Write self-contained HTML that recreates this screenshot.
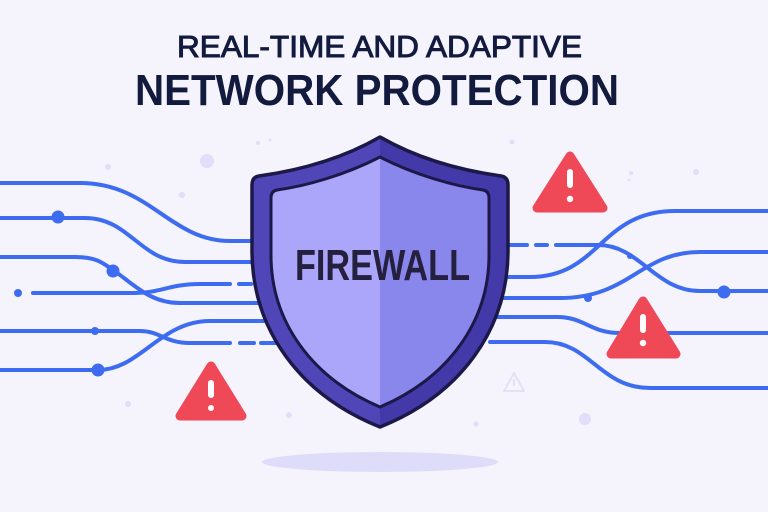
<!DOCTYPE html>
<html>
<head>
<meta charset="utf-8">
<style>
  html,body{margin:0;padding:0;background:#f5f4fd;}
  svg{display:block;}
</style>
</head>
<body>
<svg width="768" height="512" viewBox="0 0 768 512" xmlns="http://www.w3.org/2000/svg">
  <defs>
    <linearGradient id="band" x1="0" y1="0" x2="1" y2="0">
      <stop offset="0.5" stop-color="#5046b8"/>
      <stop offset="0.5" stop-color="#4439a9"/>
    </linearGradient>
    <linearGradient id="inner" x1="0" y1="0" x2="1" y2="0">
      <stop offset="0.5" stop-color="#aca6fb"/>
      <stop offset="0.5" stop-color="#8986ec"/>
    </linearGradient>
  </defs>
  <rect width="768" height="512" fill="#f5f4fd"/>

  <!-- title -->
  <text x="177" y="57" font-family="Liberation Sans, sans-serif" font-size="31" fill="#121a3e" stroke="#121a3e" stroke-width="1" textLength="405" lengthAdjust="spacingAndGlyphs">REAL-TIME AND ADAPTIVE</text>
  <text x="135" y="105" font-family="Liberation Sans, sans-serif" font-weight="bold" font-size="44" fill="#121a3e" textLength="484" lengthAdjust="spacingAndGlyphs">NETWORK PROTECTION</text>

  <!-- decorative dots -->
  <g fill="#e0def8">
    <circle cx="207" cy="161" r="7"/>
    <circle cx="108" cy="167" r="3"/>
    <circle cx="182" cy="195" r="3"/>
    <circle cx="128" cy="404" r="3"/>
    <circle cx="258" cy="143" r="2"/>
    <circle cx="270" cy="140" r="1.5"/>
    <circle cx="512" cy="142" r="2.5"/>
    <circle cx="696" cy="172" r="3"/>
    <circle cx="631" cy="173" r="2"/>
    <circle cx="629" cy="180" r="1.3"/>
    <circle cx="585" cy="419" r="6"/>
    <circle cx="289" cy="415" r="3"/>
    <circle cx="476" cy="424" r="2.5"/>
  </g>

  <!-- faint warning -->
  <g fill="none" stroke="#e3e1f6" stroke-width="2" stroke-linejoin="round">
    <path d="M514,373 L524,391 L504,391 Z"/>
  </g>
  <rect x="513" y="379" width="2" height="7" fill="#e3e1f6"/>

  <!-- shadow -->
  <ellipse cx="380" cy="462" rx="118" ry="10" fill="#dedcf8"/>

  <!-- network lines -->
  <g fill="none" stroke="#3d6cf0" stroke-width="4" stroke-linecap="round">
    <!-- left -->
    <path d="M-5,183 L80,183 C150,183 170,241 230,241 L275,241"/>
    <path d="M-5,218 L85,218 C130,218 140,262 185,262 L275,262"/>
    <path d="M-5,257 L75,257 C95,257 102,262 113,270 C135,285 150,303 180,303 L275,303"/>
    <path d="M33,293 L135,293 C160,293 170,284 200,284 L230,284"/>
    <path d="M239,284 L251,284"/>
    <path d="M258,284 L275,284"/>
    <path d="M-5,331 L140,331 C160,331 165,343 190,343 L230,343"/>
    <path d="M240,343 L254,343"/>
    <path d="M261,343 L285,343"/>
    <path d="M-5,370 L98,370 C140,370 160,321 210,321 L285,321"/>
    <!-- right -->
    <path d="M500,245 L527,245"/>
    <path d="M536,245 L547,245"/>
    <path d="M556,245 L598,245 C640,245 655,291 700,291 L775,291"/>
    <path d="M490,277 L530,277 C600,277 600,211 675,211 L775,211"/>
    <path d="M490,298 L560,298 C630,298 640,252 700,252 L775,252"/>
    <path d="M490,317 L557,317 C585,317 590,333 620,333 L775,333"/>
    <path d="M490,342 L545,342 C590,342 600,388 650,388 L775,388"/>
  </g>
  <g fill="#3d6cf0">
    <circle cx="58" cy="217" r="6.5"/>
    <circle cx="113" cy="271" r="6.5"/>
    <circle cx="18" cy="293" r="4"/>
    <circle cx="95" cy="331" r="4"/>
    <circle cx="98" cy="370" r="6.5"/>
    <circle cx="724" cy="292" r="6.5"/>
    <circle cx="588" cy="298" r="4"/>
    <circle cx="630" cy="256" r="3"/>
  </g>

  <!-- shield -->
  <path d="M380,137 C340,160 295,171 259,176 Q252,177 252,185 L252,250 C252,330 300,395 380,427 C460,395 508,330 508,250 L508,185 Q508,177 501,176 C465,171 420,160 380,137 Z"
        fill="url(#band)" stroke="#1c1848" stroke-width="3.5" stroke-linejoin="round"/>
  <path d="M380,157 C345,175 306,186 277,190 Q271,191 271,198 L271,255 C271,322 312,378 380,407 C448,378 489,322 489,255 L489,198 Q489,191 483,190 C454,186 415,175 380,157 Z"
        fill="url(#inner)" stroke="#1c1848" stroke-width="3" stroke-linejoin="round"/>
  <text x="295" y="280" font-family="Liberation Sans, sans-serif" font-weight="bold" font-size="44" fill="#26203f" textLength="175" lengthAdjust="spacingAndGlyphs">FIREWALL</text>

  <!-- warning triangles -->
  <g fill="#ef4856" stroke="#ef4856" stroke-width="9" stroke-linejoin="round">
    <path d="M570,156 L603,208 L537,208 Z"/>
    <path d="M643,301 L676,354 L611,354 Z"/>
    <path d="M211,366 L242,416 L180,416 Z"/>
  </g>
  <g fill="#ffffff">
    <rect x="567" y="169" width="6" height="19" rx="3"/>
    <circle cx="570" cy="199" r="3.2"/>
    <rect x="640" y="314" width="6" height="19" rx="3"/>
    <circle cx="643" cy="343" r="3.2"/>
    <rect x="208" y="380" width="6" height="18" rx="3"/>
    <circle cx="211" cy="408" r="3"/>
  </g>
</svg>
</body>
</html>
